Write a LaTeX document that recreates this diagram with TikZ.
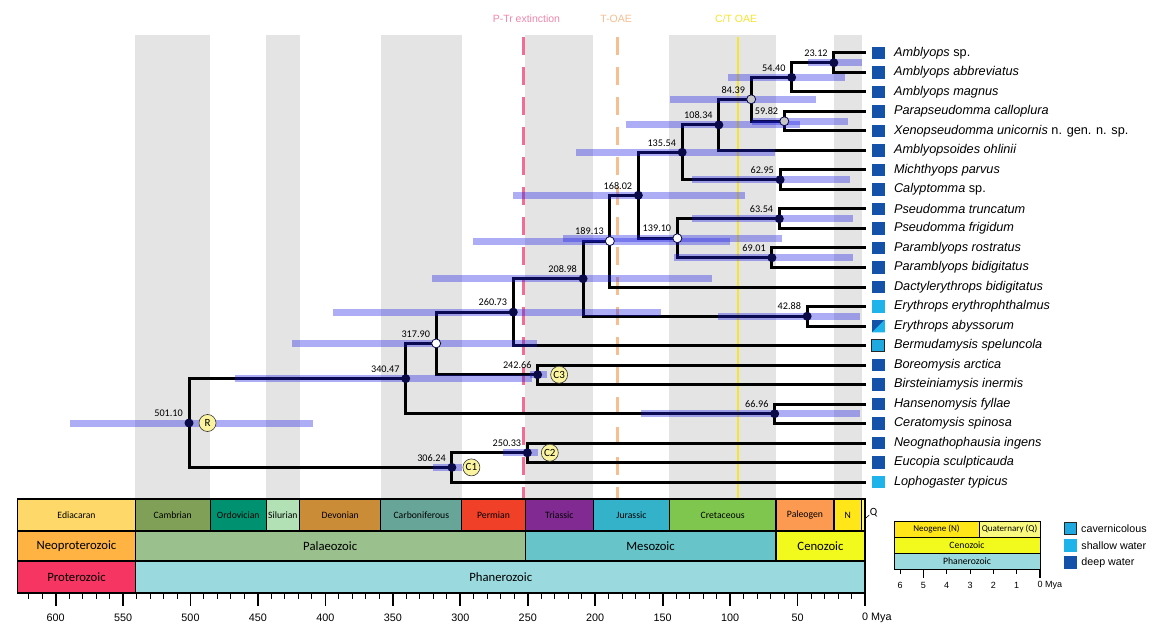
\documentclass[tikz,border=0pt]{standalone}
\usepackage{fontspec}
\setmainfont{Liberation Sans}
\newfontfamily\calfont{Carlito}
\usetikzlibrary{positioning}

\definecolor{bandgrey}{RGB}{228,228,228}
\definecolor{hpdblue}{RGB}{30,30,230}
\definecolor{nodenavy}{RGB}{10,10,70}
\definecolor{deepc}{RGB}{20,82,170}
\definecolor{shallowc}{RGB}{30,180,235}
\definecolor{cavec}{RGB}{30,170,225}
\definecolor{cladeyel}{RGB}{250,244,160}
\definecolor{ptrc}{RGB}{240,110,150}
\definecolor{ptrt}{RGB}{240,135,170}
\definecolor{toaec}{RGB}{246,190,145}
\definecolor{ctoaec}{RGB}{245,228,50}
% time scale colours
\definecolor{cEdi}{RGB}{254,217,106}
\definecolor{cCam}{RGB}{127,160,86}
\definecolor{cOrd}{RGB}{0,146,112}
\definecolor{cSil}{RGB}{179,225,182}
\definecolor{cDev}{RGB}{203,140,55}
\definecolor{cCar}{RGB}{103,165,153}
\definecolor{cPer}{RGB}{240,64,40}
\definecolor{cTri}{RGB}{129,43,146}
\definecolor{cJur}{RGB}{52,178,201}
\definecolor{cCre}{RGB}{127,198,78}
\definecolor{cPgn}{RGB}{253,154,82}
\definecolor{cNgn}{RGB}{255,230,25}
\definecolor{cQua}{RGB}{249,249,127}
\definecolor{cNeo}{RGB}{254,179,66}
\definecolor{cPal}{RGB}{153,192,141}
\definecolor{cMes}{RGB}{103,197,202}
\definecolor{cCen}{RGB}{242,249,29}
\definecolor{cProt}{RGB}{247,53,99}
\definecolor{cPhan}{RGB}{154,217,221}

\tikzset{
  branch/.style={line width=3pt, black},
  hpd/.style={line width=7pt, hpdblue, opacity=0.36},
  dnode/.style={circle, fill=nodenavy, inner sep=0pt, minimum size=9pt},
  onode/.style={circle, fill=white, draw=nodenavy, line width=0.8pt, inner sep=0pt, minimum size=9pt},
  gnode/.style={onode, fill=black!22},
  age/.style={font=\calfont\fontsize{10.2}{12}\selectfont, anchor=south east, inner sep=0pt},
  clade/.style={circle, fill=cladeyel, draw=black!80, line width=0.6pt, inner sep=0pt,
    minimum size=17pt, font=\calfont\fontsize{11}{12}\selectfont},
  taxon/.style={inner sep=0pt, font=\fontsize{12.7}{15}\selectfont},
  hab/.style={minimum size=12.5pt, inner sep=0pt, fill=#1},
  tsbox/.style={draw=black, line width=1.2pt},
  perlbl/.style={font=\calfont\fontsize{9.7}{11}\selectfont},
  eralbl/.style={font=\calfont\fontsize{12.7}{14}\selectfont},
  axlbl/.style={font=\fontsize{10.8}{12}\selectfont},
  evlbl/.style={font=\fontsize{10.5}{12}\selectfont},
  leglbl/.style={font=\fontsize{10.7}{12}\selectfont, anchor=west, inner sep=0pt}
}

\begin{document}
\begin{tikzpicture}[x=1pt, y=-1pt]
\path[fill=white, use as bounding box] (0,0) rectangle (1165,631);

\begin{scope}[xshift=865pt, x=-1.349pt]
  % grey period bands
  \foreach \a/\b in {541/485.4, 443.8/419.2, 358.9/298.9, 251.9/201.3, 145/66, 23/2.58}
    \fill[bandgrey] (\a,35) rectangle (\b,499);

  % events
  \draw[ptrc, line width=2.6pt, dash pattern=on 18pt off 12pt] (253,37) -- (253,499);
  \draw[toaec, line width=2.6pt, dash pattern=on 18pt off 12pt] (183.5,37) -- (183.5,499);
  \draw[ctoaec, line width=2.2pt] (94,37) -- (94,499);
  \node[evlbl, text=ptrt] (evptr) at (251,19) {P-Tr extinction};
  \node[evlbl, text=toaec] (evtoae) at (184.5,19) {T-OAE};
  \node[evlbl, text=ctoaec] (evctoae) at (95.5,19) {C/T OAE};

  % tips
  \foreach \i/\yy/\hb/\nm in {
     1/53/deepc/{\textit{Amblyops} sp.},
     2/72.5/deepc/{\textit{Amblyops abbreviatus}},
     3/92/deepc/{\textit{Amblyops magnus}},
     4/111.5/deepc/{\textit{Parapseudomma calloplura}},
     5/131/deepc/{\textit{Xenopseudomma unicornis} n. gen. n. sp.},
     6/150.5/deepc/{\textit{Amblyopsoides ohlinii}},
     7/170/deepc/{\textit{Michthyops parvus}},
     8/189.5/deepc/{\textit{Calyptomma} sp.},
     9/209/deepc/{\textit{Pseudomma truncatum}},
    10/228.5/deepc/{\textit{Pseudomma frigidum}},
    11/248/deepc/{\textit{Paramblyops rostratus}},
    12/267.5/deepc/{\textit{Paramblyops bidigitatus}},
    13/287/deepc/{\textit{Dactylerythrops bidigitatus}},
    14/306.5/shallowc/{\textit{Erythrops erythrophthalmus}},
    15/326/deepc/{\textit{Erythrops abyssorum}},
    16/345.5/cavec/{\textit{Bermudamysis speluncola}},
    17/365/deepc/{\textit{Boreomysis arctica}},
    18/384.5/deepc/{\textit{Birsteiniamysis inermis}},
    19/404/deepc/{\textit{Hansenomysis fyllae}},
    20/423.5/deepc/{\textit{Ceratomysis spinosa}},
    21/443/deepc/{\textit{Neognathophausia ingens}},
    22/462.5/deepc/{\textit{Eucopia sculpticauda}},
    23/482/shallowc/{\textit{Lophogaster typicus}}}
  {
    \coordinate (t\i) at (-0.7,\yy);
    \node[hab=\hb, right=6pt of t\i] (h\i) {};
    \node[taxon, right=9pt of h\i] (x\i) {\nm};
  }
  \fill[shallowc] (h15.south west) -- (h15.south east) -- (h15.north east) -- cycle;
  \draw[line width=1pt, black!85] (h16.south west) rectangle (h16.north east);

  % divergence nodes
  \coordinate (n501) at (501.10,423);
  \coordinate (n340) at (340.47,378.6);
  \coordinate (n318) at (317.90,343.4);
  \coordinate (n261) at (260.73,312.1);
  \coordinate (n209) at (208.98,278.7);
  \coordinate (n189) at (189.13,241.1);
  \coordinate (n168) at (168.02,195.3);
  \coordinate (n136) at (135.54,152.3);
  \coordinate (n108) at (108.34,124.9);
  \coordinate (n84) at (84.39,99.3);
  \coordinate (n54) at (54.40,77.4);
  \coordinate (n23) at (23.12,62.75);
  \coordinate (n60) at (59.82,121.25);
  \coordinate (n63) at (62.95,179.75);
  \coordinate (n139) at (139.10,238.25);
  \coordinate (n64) at (63.54,218.75);
  \coordinate (n69) at (69.01,257.75);
  \coordinate (n43) at (42.88,316.25);
  \coordinate (n243) at (242.66,374.75);
  \coordinate (n67) at (66.96,413.75);
  \coordinate (n306) at (306.24,467.4);
  \coordinate (n250) at (250.33,452.75);

  % branches
  \foreach \p/\c in {n501/n340, n501/n306, n340/n318, n340/n67, n318/n261, n318/n243,
      n261/n209, n261/t16, n209/n189, n209/n43, n189/n168, n189/t13, n168/n136, n168/n139,
      n136/n108, n136/n63, n108/n84, n108/t6, n84/n54, n84/n60, n54/n23, n54/t3,
      n23/t1, n23/t2, n60/t4, n60/t5, n63/t7, n63/t8, n139/n64, n139/n69,
      n64/t9, n64/t10, n69/t11, n69/t12, n43/t14, n43/t15, n243/t17, n243/t18,
      n67/t19, n67/t20, n306/n250, n306/t23, n250/t21, n250/t22}
    \draw[branch] (\p) |- (\c);

  % 95% HPD bars
  \foreach \n/\o/\y in {n23/42/2, n54/101.6/14.8, n84/144.6/36.3, n60/83.8/12.6,
      n108/177.2/48.2, n136/214.2/66.7, n63/128.2/11.1, n168/260.9/89, n139/223.9/61.5,
      n64/128.2/8.9, n69/141.6/8.9, n189/290.6/100.1, n209/321/113.4, n43/109/3.7,
      n261/394.4/151.2, n318/424.8/243.1, n243/248.3/235.7, n340/467/246.8, n67/166/3.7,
      n501/589.3/409.2, n250/268.3/242.4, n306/320.2/298.7}
    \draw[hpd] (\o,0 |- \n) -- (\y,0 |- \n);

  % node markers
  \foreach \n in {n501,n340,n261,n209,n168,n136,n108,n54,n23,n63,n64,n69,n43,n243,n67,n306,n250}
    \node[dnode] (m\n) at (\n) {};
  \foreach \n in {n318,n189,n139}
    \node[onode] (m\n) at (\n) {};
  \foreach \n in {n84,n60}
    \node[gnode] (m\n) at (\n) {};

  % ages
  \foreach \n/\v in {n501/501.10, n340/340.47, n318/317.90, n261/260.73, n209/208.98,
      n189/189.13, n168/168.02, n136/135.54, n108/108.34, n84/84.39, n54/54.40, n23/23.12,
      n60/59.82, n63/62.95, n139/139.10, n64/63.54, n69/69.01, n43/42.88, n243/242.66,
      n67/66.96, n306/306.24, n250/250.33}
    \node[age] (a\n) at ([xshift=-6pt,yshift=6pt]\n) {\v};

  % calibrations
  \node[clade, right=5pt of mn501] (cR) {R};
  \node[clade, right=6pt of mn306] (cC1) {C1};
  \node[clade, right=9pt of mn250] (cC2) {C2};
  \node[clade, right=8pt of mn243] (cC3) {C3};

  % geological time scale
  \foreach \a/\b/\cl/\nm [count=\k] in {628/541/cEdi/Ediacaran, 541/485.4/cCam/Cambrian,
      485.4/443.8/cOrd/Ordovician, 443.8/419.2/cSil/Silurian, 419.2/358.9/cDev/Devonian,
      358.9/298.9/cCar/Carboniferous, 298.9/251.9/cPer/Permian, 251.9/201.3/cTri/Triassic,
      201.3/145/cJur/Jurassic, 145/66/cCre/Cretaceous, 66/23/cPgn/Paleogen, 23/2.58/cNgn/N,
      2.58/0/cQua/{}}
  {
    \draw[tsbox, fill=\cl] (\a,499) rectangle (\b,531);
    \node[perlbl] (per\k) at ({(\a+\b)/2},515) {\nm};
  }
  \draw[line width=0.6pt] (-0.6,518) -- (-3.2,515);
  \node[perlbl, font=\calfont\fontsize{11}{12}\selectfont, anchor=west, inner sep=0pt] (perQ) at (-3.4,513) {Q};
  \foreach \a/\b/\cl/\nm [count=\k] in {628/541/cNeo/Neoproterozoic, 541/251.9/cPal/Palaeozoic,
      251.9/66/cMes/Mesozoic, 66/0/cCen/Cenozoic}
  {
    \draw[tsbox, fill=\cl] (\a,531) rectangle (\b,561);
    \node[eralbl] (era\k) at ({(\a+\b)/2},546) {\nm};
  }
  \draw[tsbox, fill=cProt] (628,561) rectangle (541,593);
  \draw[tsbox, fill=cPhan] (541,561) rectangle (0,593);
  \node[eralbl] (eonP) at (584.5,577) {Proterozoic};
  \node[eralbl] (eonF) at (270,577) {Phanerozoic};

  % axis
  \foreach \t in {0,10,...,620}
    \draw[line width=1pt] (\t,593) -- (\t,599);
  \foreach \t in {50,100,...,600}
  {
    \draw[line width=1.8pt] (\t,593) -- (\t,606);
    \node[axlbl] (ax\t) at (\t,618) {\t};
  }
  \draw[line width=1.8pt] (0,593) -- (0,606);
  \node[axlbl, anchor=west, inner sep=0pt] (ax0) at ([xshift=-3pt]0,618) {0 Mya};
\end{scope}

% inset scale for the last 6 My
\draw[tsbox, line width=1pt, fill=cNgn] (894,521) rectangle (979,537);
\draw[tsbox, line width=1pt, fill=cQua] (979,521) rectangle (1040,537);
\draw[tsbox, line width=1pt, fill=cCen] (894,537) rectangle (1040,553);
\draw[tsbox, line width=1pt, fill=cPhan] (894,553) rectangle (1040,569);
\node[perlbl, font=\calfont\fontsize{9}{10}\selectfont] (insN) at (936.5,529) {Neogene (N)};
\node[perlbl, font=\calfont\fontsize{9}{10}\selectfont] (insQ) at (1009.5,529) {Quaternary (Q)};
\node[perlbl] (insC) at (967,545) {Cenozoic};
\node[perlbl] (insP) at (967,561) {Phanerozoic};
\foreach \k in {1,2,3,4,6}
{
  \draw[line width=0.8pt] ({1040-23.33*\k},569) -- ({1040-23.33*\k},574);
  \node[axlbl, font=\fontsize{9}{10}\selectfont] (ins\k) at ({1040-23.33*\k},585) {\k};
}
\draw[line width=1.5pt] (923.35,569) -- (923.35,578);
\node[axlbl, font=\fontsize{9}{10}\selectfont] (ins5) at (923.35,585) {5};
\draw[line width=1.5pt] (1040,569) -- (1040,578);
\node[axlbl, font=\fontsize{9}{10}\selectfont, anchor=west, inner sep=0pt] (ins0) at (1037.5,585) {0 Mya};

% habitat legend
\node[hab=cavec, draw=black!85, line width=1pt, minimum size=12pt] (lgcave) at (1070.5,528.5) {};
\node[hab=shallowc, minimum size=13pt] (lgshal) at (1070.5,545.5) {};
\node[hab=deepc, minimum size=13pt] (lgdeep) at (1070.5,562.5) {};
\node[leglbl, right=4pt of lgcave] (lgcavet) {cavernicolous};
\node[leglbl, right=4pt of lgshal] (lgshalt) {shallow water};
\node[leglbl, right=4pt of lgdeep] (lgdeept) {deep water};
\end{tikzpicture}
\end{document}
